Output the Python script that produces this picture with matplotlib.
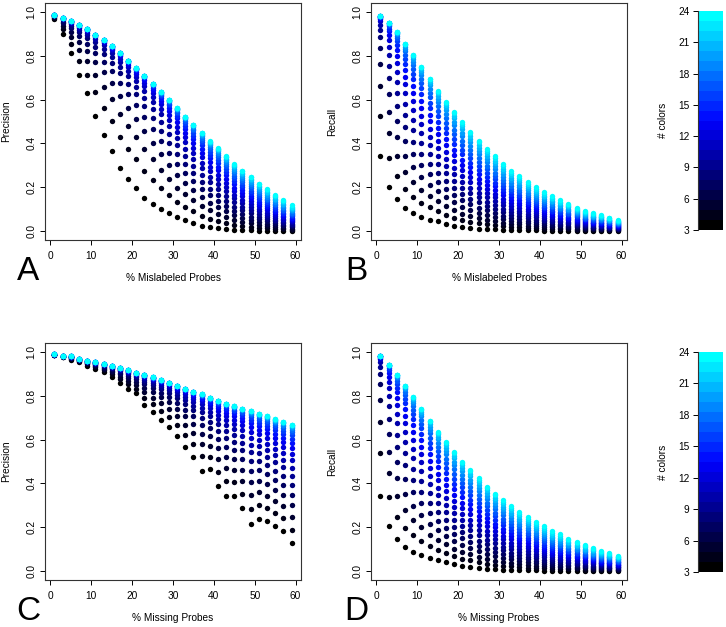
import numpy as np
import matplotlib
matplotlib.use('Agg')
import matplotlib.pyplot as plt
from matplotlib.colors import LinearSegmentedColormap, ListedColormap

plt.rcParams['font.family'] = ['Liberation Sans', 'DejaVu Sans']
FS = 7.3

# % of probes affected (x) and number of colors (one series each)
pct = list(range(1, 60, 2))
ncol = list(range(3, 25))

# value of the 24-color series (top of each column),
# the 3-color series (bottom of each column) and how strongly the
# intermediate series bunch up towards the top in each column
top_A = [0.986, 0.972, 0.957, 0.940, 0.922, 0.896, 0.872, 0.843, 0.811, 0.777,
         0.742, 0.709, 0.671, 0.633, 0.598, 0.560, 0.522, 0.485, 0.447, 0.409,
         0.377, 0.341, 0.305, 0.275, 0.249, 0.217, 0.191, 0.167, 0.144, 0.118]
bot_A = [0.968, 0.898, 0.814, 0.712, 0.629, 0.525, 0.438, 0.367, 0.290, 0.236,
         0.198, 0.152, 0.126, 0.100, 0.081, 0.063, 0.050, 0.038, 0.023, 0.018,
         0.014, 0.010, 0.007, 0.005, 0.004, 0.003, 0.002, 0.002, 0.001, 0.001]
bend_A = [7, 7, 7, 7, 7, 7, 7, 6.8, 6.4, 6.0, 5.6, 5.1, 4.6, 4.1, 3.6,
          3.2, 2.9, 2.6, 2.4, 2.2, 2.0, 1.8, 1.6, 1.5, 1.4, 1.3, 1.2, 1.1, 1.05, 1.0]

top_B = [0.979, 0.949, 0.907, 0.853, 0.803, 0.750, 0.694, 0.640, 0.590, 0.542,
         0.496, 0.453, 0.412, 0.374, 0.341, 0.305, 0.275, 0.252, 0.225, 0.202,
         0.179, 0.161, 0.141, 0.126, 0.108, 0.093, 0.082, 0.073, 0.062, 0.050]
bot_B = [0.342, 0.200, 0.146, 0.106, 0.084, 0.065, 0.053, 0.046, 0.032, 0.024,
         0.018, 0.014, 0.012, 0.010, 0.008, 0.007, 0.006, 0.005, 0.004, 0.004,
         0.003, 0.003, 0.002, 0.002, 0.002, 0.001, 0.001, 0.001, 0.001, 0.001]
bend_B = [7, 4, 3, 2.5, 2.2, 2.0, 1.85, 1.7, 1.6, 1.5, 1.4, 1.35, 1.3, 1.25, 1.2,
          1.15, 1.1, 1.1, 1.05, 1.05, 1, 1, 1, 1, 1, 1, 1, 1, 1, 1]

top_C = [0.988, 0.983, 0.979, 0.968, 0.960, 0.952, 0.944, 0.936, 0.926, 0.916,
         0.905, 0.895, 0.883, 0.870, 0.859, 0.845, 0.832, 0.818, 0.806, 0.790,
         0.777, 0.764, 0.752, 0.741, 0.730, 0.718, 0.706, 0.692, 0.680, 0.668]
bot_C = [0.985, 0.975, 0.964, 0.952, 0.937, 0.922, 0.906, 0.886, 0.858, 0.831,
         0.810, 0.758, 0.724, 0.690, 0.655, 0.614, 0.564, 0.521, 0.457, 0.465,
         0.388, 0.342, 0.342, 0.286, 0.213, 0.240, 0.228, 0.205, 0.185, 0.128]
bend_C = [5.5, 5.5, 5.5, 5.5, 5.5, 5.5, 5.5, 5.5, 5.5, 5.5, 5.5, 5.5, 5.5, 5.5, 5.5,
          5.2, 4.9, 4.6, 4.3, 4.0, 3.8, 3.6, 3.4, 3.2, 3.0, 2.9, 2.8, 2.7, 2.6, 2.5]

top_D = [0.983, 0.942, 0.896, 0.846, 0.793, 0.739, 0.686, 0.633, 0.587, 0.542,
         0.499, 0.461, 0.424, 0.386, 0.354, 0.325, 0.298, 0.271, 0.248, 0.225,
         0.204, 0.184, 0.169, 0.149, 0.134, 0.120, 0.105, 0.091, 0.082, 0.070]
bot_D = [0.342, 0.207, 0.146, 0.111, 0.088, 0.073, 0.058, 0.050, 0.041, 0.032,
         0.024, 0.020, 0.014, 0.011, 0.008, 0.007, 0.006, 0.005, 0.004, 0.004,
         0.003, 0.003, 0.002, 0.002, 0.002, 0.002, 0.001, 0.001, 0.001, 0.001]
bend_D = [7.5, 4, 3, 2.6, 2.3, 2.1, 1.9, 1.75, 1.6, 1.5, 1.45, 1.4, 1.35, 1.3, 1.25,
          1.2, 1.15, 1.1, 1.1, 1.05, 1.05, 1, 1, 1, 1, 1, 1, 1, 1, 1]

cmap = LinearSegmentedColormap.from_list('bbc', ['black', 'blue', 'cyan'])
colors = [cmap(i / (len(ncol) - 1)) for i in range(len(ncol))]


def table(top, bot, bend):
    top = np.array(top); bot = np.array(bot); bend = np.array(bend)
    t = (np.array(ncol) - ncol[0]) / (ncol[-1] - ncol[0])
    share = 1 - (1 - t[:, None]) ** bend[None, :]
    return bot + (top - bot) * share


W, H = 726, 627
def rect(l, t, r, b):
    return [l / W, 1 - b / H, (r - l) / W, (b - t) / H]


fig = plt.figure(figsize=(7.26, 6.27), dpi=100)


def panel(box, vals, ylab, xlab):
    ax = fig.add_axes(rect(*box))
    for i in range(len(ncol)):
        ax.scatter(pct, vals[i], s=15, color=colors[i], linewidths=0, zorder=2)
    ax.set_xlim(-1.32, 61.32)
    ax.set_ylim(-0.04, 1.04)
    ax.set_xticks(range(0, 61, 10))
    ax.set_yticks([0, 0.2, 0.4, 0.6, 0.8, 1.0])
    ax.set_yticklabels(['0.0', '0.2', '0.4', '0.6', '0.8', '1.0'], rotation=90, va='center')
    ax.tick_params(direction='out', length=3.6, width=0.7, labelsize=FS, pad=2.5)
    ax.tick_params(axis='x', pad=4)
    ax.set_xlabel(xlab, fontsize=FS, labelpad=9)
    ax.set_ylabel(ylab, fontsize=FS, labelpad=11)
    for sp in ax.spines.values():
        sp.set_linewidth(0.8)
        sp.set_color('#333333')
    return ax


def colorbar(box):
    cax = fig.add_axes(rect(*box))
    edges = np.linspace(ncol[0], ncol[-1], len(ncol) + 1)
    cax.pcolormesh([0, 1], edges, np.arange(len(ncol)).reshape(-1, 1),
                   cmap=ListedColormap(colors), shading='flat')
    cax.set_xlim(0, 1)
    cax.set_ylim(ncol[0], ncol[-1])
    cax.set_xticks([])
    cax.set_yticks(range(3, 25, 3))
    cax.tick_params(direction='out', length=3.6, width=0.7, labelsize=FS, pad=2.5)
    for s in ['top', 'right', 'bottom']:
        cax.spines[s].set_visible(False)
    cax.spines['left'].set_linewidth(0.8)
    cax.spines['left'].set_color('#333333')
    cax.set_ylabel('# colors', fontsize=FS, labelpad=7)


panel((45, 3, 301, 240), table(top_A, bot_A, bend_A), 'Precision', '% Mislabeled Probes')
panel((371, 3, 627, 240), table(top_B, bot_B, bend_B), 'Recall', '% Mislabeled Probes')
panel((45, 343, 301, 580), table(top_C, bot_C, bend_C), 'Precision', '% Missing Probes')
panel((371, 343, 627, 580), table(top_D, bot_D, bend_D), 'Recall', '% Missing Probes')
colorbar((698, 11, 723, 230))
colorbar((698, 352, 723, 572))

for lab, x, y in [('A', 28, 271), ('B', 356, 271), ('C', 28, 611), ('D', 356, 611)]:
    fig.text(x / W, 1 - y / H, lab, fontsize=24, ha='center', va='center')

fig.savefig('out.png', dpi=100)
